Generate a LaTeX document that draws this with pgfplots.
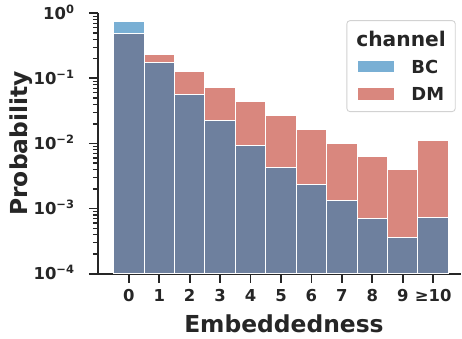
\documentclass[border=0pt]{standalone}
\usepackage{fontspec}
\setmainfont{DejaVu Sans}
\usepackage{pgfplots}
\pgfplotsset{compat=1.18}
\definecolor{bcblue}{RGB}{121,175,212}
\definecolor{dmred}{RGB}{217,135,126}
\definecolor{overlap}{RGB}{110,128,158}
\definecolor{txt}{RGB}{38,38,38}
\definecolor{leggray}{RGB}{210,210,210}
\newcommand\sups[1]{\raisebox{0.36em}{\fontsize{11.5}{12}\selectfont #1}}
\begin{document}
\begin{tikzpicture}
\begin{axis}[
  scale only axis, width=363.5bp, height=260.7bp,
  ymode=log, ymin=1e-4, ymax=1, log origin=infty,
  xmin=-1.016, xmax=10.915,
  axis lines=left, axis line style={-, line width=2bp, color=txt},
  tick align=outside,
  major tick length=9bp, minor tick length=5bp,
  tick style={txt, line width=1.8bp},
  minor tick style={txt, line width=1.3bp},
  xtick={0,...,10}, xticklabels={0,1,2,3,4,5,6,7,8,9,≥10},
  ytick={1e-4,1e-3,1e-2,1e-1,1},
  minor ytick={2e-4,3e-4,4e-4,5e-4,6e-4,7e-4,8e-4,9e-4,
               2e-3,3e-3,4e-3,5e-3,6e-3,7e-3,8e-3,9e-3,
               2e-2,3e-2,4e-2,5e-2,6e-2,7e-2,8e-2,9e-2,
               0.2,0.3,0.4,0.5,0.6,0.7,0.8,0.9},
  yticklabels={10\sups{−4},10\sups{−3},10\sups{−2},10\sups{−1},10\sups{0}},
  tick label style={font=\fontsize{16.5}{18}\selectfont\bfseries, text=txt, inner sep=0pt},
  xticklabel style={anchor=base, yshift=-18.7bp},
  yticklabel style={anchor=base east, yshift=-6bp, xshift=-14.7bp},
  xlabel={Embeddedness}, ylabel={Probability},
  every axis x label/.style={at={(axis description cs:0.5124,-0.2275)}, anchor=base,
     font=\fontsize{23.5}{28}\selectfont\bfseries, text=txt, inner sep=0pt},
  every axis y label/.style={at={(axis description cs:-0.2421,0.5)}, rotate=90, anchor=north,
     font=\fontsize{23.5}{28}\selectfont\bfseries, text=txt, inner sep=0pt},
  clip=true,
]
% BC
\addplot[ybar, bar width=1, bar shift=0pt, fill=bcblue, draw=white, line width=1bp]
  coordinates {(0,0.754) (1,0.173) (2,0.0573) (3,0.0225) (4,0.00945) (5,0.00434) (6,0.00238) (7,0.00132) (8,0.0007) (9,0.000366) (10,0.000718)};
% DM
\addplot[ybar, bar width=1, bar shift=0pt, fill=dmred, draw=white, line width=1bp]
  coordinates {(0,0.482) (1,0.229) (2,0.126) (3,0.0722) (4,0.0441) (5,0.0269) (6,0.0166) (7,0.00989) (8,0.00625) (9,0.00405) (10,0.011)};
% overlap of BC and DM
\addplot[ybar, bar width=1, bar shift=0pt, fill=overlap, draw=white, line width=1bp]
  coordinates {(0,0.482) (1,0.173) (2,0.0573) (3,0.0225) (4,0.00945) (5,0.00434) (6,0.00238) (7,0.00132) (8,0.0007) (9,0.000366) (10,0.000718)};
\end{axis}
% legend
\draw[draw=leggray, line width=0.9bp, rounded corners=3bp, fill=white, fill opacity=0.8] (249.3bp,162.3bp) rectangle (357.7bp,253.3bp);
\node[anchor=base, inner sep=0pt, font=\fontsize{20.3}{24}\selectfont\bfseries, text=txt] at (303.5bp,227.3bp) {channel};
\fill[bcblue] (260.3bp,202.3bp) rectangle (296.3bp,213.3bp);
\node[anchor=base west, inner sep=0pt, font=\fontsize{18}{21}\selectfont\bfseries, text=txt] at (313.7bp,200.7bp) {BC};
\fill[dmred] (260.3bp,174bp) rectangle (296.3bp,185.7bp);
\node[anchor=base west, inner sep=0pt, font=\fontsize{18}{21}\selectfont\bfseries, text=txt] at (313.7bp,173bp) {DM};
\path (-98bp,-65bp) rectangle (364bp,274bp);
\end{tikzpicture}
\end{document}
